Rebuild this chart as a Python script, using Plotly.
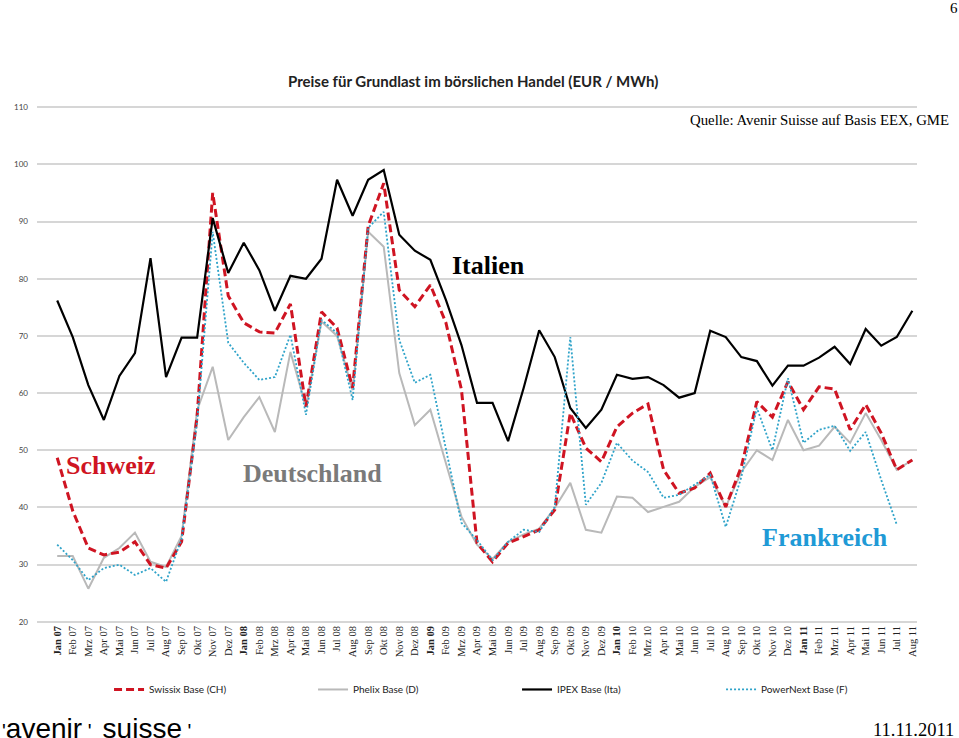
import plotly.graph_objects as go

months = ["Jan 07","Feb 07","Mrz 07","Apr 07","Mai 07","Jun 07","Jul 07","Aug 07","Sep 07","Okt 07","Nov 07","Dez 07",
          "Jan 08","Feb 08","Mrz 08","Apr 08","Mai 08","Jun 08","Jul 08","Aug 08","Sep 08","Okt 08","Nov 08","Dez 08",
          "Jan 09","Feb 09","Mrz 09","Apr 09","Mai 09","Jun 09","Jul 09","Aug 09","Sep 09","Okt 09","Nov 09","Dez 09",
          "Jan 10","Feb 10","Mrz 10","Apr 10","Mai 10","Jun 10","Jul 10","Aug 10","Sep 10","Okt 10","Nov 10","Dez 10",
          "Jan 11","Feb 11","Mrz 11","Apr 11","Mai 11","Jun 11","Jul 11","Aug 11"]
tick_labels = [("<b>%s</b>" % m) if m.startswith("Jan") else m for m in months]

swissix_ch = [48.7, 39.4, 32.9, 31.7, 32.2, 34.0, 30.0, 29.4, 34.0, 56.0, 95.0, 77.0,
              72.3, 70.7, 70.5, 75.6, 57.6, 74.2, 71.4, 60.9, 89.2, 96.7, 78.0, 75.1,
              78.9, 72.3, 60.6, 33.8, 30.5, 33.8, 34.9, 36.1, 39.6, 56.5, 50.4, 48.0,
              54.1, 56.5, 58.1, 46.6, 42.5, 43.4, 46.0, 40.1, 47.1, 58.5, 55.8, 62.0,
              57.1, 61.1, 60.7, 53.6, 58.0, 53.0, 46.6, 48.3]

phelix_d = [31.5, 31.5, 25.8, 31.2, 32.9, 35.6, 30.5, 29.6, 35.0, 57.0, 64.6, 51.8,
            55.8, 59.3, 53.2, 67.2, 57.6, 72.5, 70.0, 60.5, 88.2, 85.6, 63.5, 54.4,
            57.1, 47.8, 38.4, 33.5, 31.0, 34.0, 35.3, 36.3, 39.9, 44.3, 36.1, 35.6,
            41.9, 41.7, 39.2, 40.1, 41.0, 43.6, 45.3, 40.1, 46.2, 50.0, 48.3, 55.3,
            50.0, 50.8, 54.1, 51.3, 56.5, 51.8, 46.6, 48.3]

ipex_ita = [76.2, 69.8, 61.4, 55.3, 63.0, 67.0, 83.6, 62.8, 69.7, 69.7, 90.6, 81.0,
            86.3, 81.5, 74.4, 80.5, 80.0, 83.5, 97.3, 91.0, 97.3, 99.0, 87.7, 84.9,
            83.3, 76.3, 68.4, 58.3, 58.3, 51.6, 60.9, 71.0, 66.3, 57.4, 53.9, 57.1,
            63.2, 62.5, 62.8, 61.4, 59.2, 60.0, 70.9, 69.8, 66.3, 65.6, 61.3, 64.8,
            64.8, 66.2, 68.1, 65.1, 71.2, 68.3, 69.8, 74.4]

powernext_f = [33.5, 30.8, 27.3, 29.4, 30.0, 28.2, 29.4, 27.0, 34.5, 55.0, 88.2, 68.8,
               65.3, 62.3, 62.8, 70.2, 56.2, 72.8, 70.5, 58.8, 88.9, 91.7, 69.3, 61.8,
               63.2, 50.1, 37.3, 34.3, 30.8, 34.0, 36.1, 35.7, 40.1, 69.8, 40.5, 44.3,
               51.3, 48.2, 46.2, 41.7, 42.2, 44.0, 45.7, 36.6, 45.3, 57.4, 50.0, 62.6,
               51.3, 53.6, 54.3, 49.9, 53.2, 44.8, 37.0, None]

y_ticks = [20, 30, 40, 50, 60, 70, 80, 90, 100, 110]

RED = "#cf1422"
GRAY = "#b9b9b9"
BLUE = "#2fa3c9"

fig = go.Figure()
fig.add_trace(go.Scatter(x=months, y=phelix_d, mode="lines", name="Phelix Base (D)", legendrank=2,
                         line=dict(color=GRAY, width=2)))
fig.add_trace(go.Scatter(x=months, y=swissix_ch, mode="lines", name="Swissix Base (CH)", legendrank=1,
                         line=dict(color=RED, width=3, dash="8px,4px")))
fig.add_trace(go.Scatter(x=months, y=ipex_ita, mode="lines", name="IPEX Base (Ita)", legendrank=3,
                         line=dict(color="black", width=2.2)))
fig.add_trace(go.Scatter(x=months, y=powernext_f, mode="lines", name="PowerNext Base (F)", legendrank=4,
                         line=dict(color=BLUE, width=1.8, dash="2px,2px")))

fig.update_xaxes(type="category", range=[-1.3, 55.3], tickmode="array", tickvals=months, ticktext=tick_labels,
                 tickangle=-90, showgrid=False, zeroline=False, showline=False, ticks="",
                 tickfont=dict(family="Liberation Serif, Times New Roman, serif", size=10.5, color="#222"))
fig.update_yaxes(range=[19.8, 110.2], tickmode="array", tickvals=y_ticks, showgrid=True, gridcolor="#d6d6d6",
                 gridwidth=1.5, zeroline=False, showline=False, ticks="", ticklabelstandoff=8,
                 tickfont=dict(family="Lato, sans-serif", size=8, color="#444"))

ann_font = "Liberation Serif, Times New Roman, serif"
bar = "<span style='font-size:20px'>'</span>"
sp = "<span style='font-size:20px'>\u00a0</span>"
sp_wide = "<span style='font-size:20px'>\u00a0\u00a0</span>"
annotations = [
    dict(text="<b>Preise für Grundlast im börslichen Handel (EUR / MWh)</b>", x=0.4958, y=1.0482,
         font=dict(family="Lato, sans-serif", size=15, color="#222"), xanchor="center", yanchor="middle"),
    dict(text="Quelle: Avenir Suisse auf Basis EEX, GME", x=1.039, y=0.9724,
         font=dict(family=ann_font, size=14.8, color="black"), xanchor="right", yanchor="middle"),
    dict(text="6", x=1.049, y=1.1893, font=dict(family=ann_font, size=15, color="black"),
         xanchor="right", yanchor="middle"),
    dict(text="<b>Italien</b>", x=0.5128, y=0.6924, font=dict(family=ann_font, size=26, color="black"),
         xanchor="center", yanchor="middle"),
    dict(text="<b>Schweiz</b>", x=0.0844, y=0.3038, font=dict(family=ann_font, size=26, color=RED),
         xanchor="center", yanchor="middle"),
    dict(text="<b>Deutschland</b>", x=0.3128, y=0.2883, font=dict(family=ann_font, size=26, color="#7a7a7a"),
         xanchor="center", yanchor="middle"),
    dict(text="<b>Frankreich</b>", x=0.896, y=0.1645, font=dict(family=ann_font, size=26, color="#1f9ad6"),
         xanchor="center", yanchor="middle"),
    dict(text="11.11.2011", x=1.0446, y=-0.207, font=dict(family=ann_font, size=18.5, color="black"),
         xanchor="right", yanchor="middle"),
    dict(text=bar + "avenir" + sp + bar + sp_wide + "suisse" + sp + bar, x=-0.0418, y=-0.205,
         font=dict(family="Liberation Sans, Arial, sans-serif", size=28, color="black"),
         xanchor="left", yanchor="middle"),
]
for a in annotations:
    a.update(xref="paper", yref="paper", showarrow=False)

fig.update_layout(
    width=959, height=738,
    margin=dict(l=36.8, r=42.3, t=105.9, b=114.9, autoexpand=False),
    paper_bgcolor="white", plot_bgcolor="white",
    showlegend=True,
    legend=dict(orientation="h", xref="container", yref="container", x=0.1137, y=0.0854,
                xanchor="left", yanchor="top",
                entrywidth=159, entrywidthmode="pixels", itemwidth=30,
                font=dict(family="Lato, sans-serif", size=10, color="#222"), bgcolor="rgba(0,0,0,0)"),
    annotations=annotations,
)

fig.write_html("out.html", config={"displayModeBar": False},
               post_script="document.body.style.margin='0px';document.body.style.overflow='hidden';")
